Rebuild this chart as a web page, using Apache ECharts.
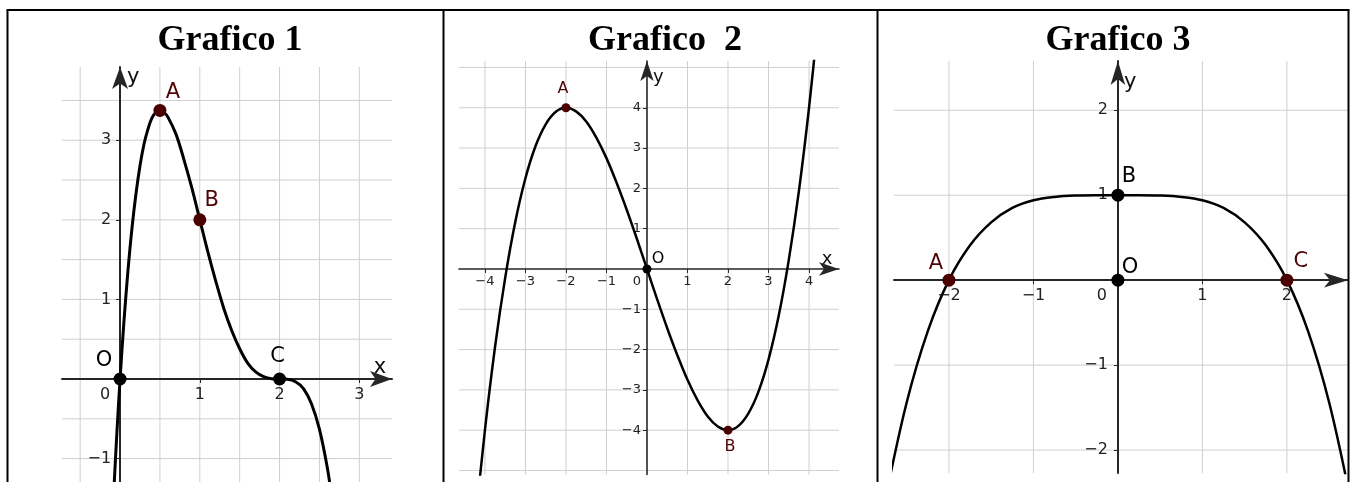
<!DOCTYPE html>
<html>
<head>
<meta charset="utf-8">
<title>Grafici</title>
<script src="https://cdn.jsdelivr.net/npm/echarts@6/dist/echarts.min.js"></script>
<style>
html, body { margin: 0; padding: 0; background: #fff; }
#chart { width: 1356px; height: 482px; }
</style>
</head>
<body>
<div id="chart"></div>
<script>
// titoli delle tre celle
const titles = ['Grafico 1', 'Grafico  2', 'Grafico 3'];

// Grafico 1: punti
const curve1X = [-0.08, -0.04, 0, 0.05, 0.1, 0.15, 0.2, 0.25, 0.3, 0.35, 0.4, 0.45, 0.5, 0.55, 0.6, 0.7, 0.8, 0.9, 1, 1.1, 1.2, 1.3, 1.4, 1.5, 1.6, 1.7, 1.8, 1.9, 2, 2.1, 2.2, 2.3, 2.4, 2.5, 2.6, 2.65];
const curve1Y = [-1.44, -0.68, 0, 0.74, 1.37, 1.9, 2.33, 2.68, 2.95, 3.14, 3.28, 3.35, 3.375, 3.35, 3.29, 3.08, 2.76, 2.4, 2, 1.6, 1.23, 0.89, 0.61, 0.38, 0.2, 0.09, 0.03, 0.004, 0, -0.004, -0.035, -0.12, -0.31, -0.63, -1.12, -1.46];
const points1Name = ['O', 'A', 'B', 'C'];
const points1X = [0, 0.5, 1, 2];
const points1Y = [0, 3.375, 2, 0];
const grid1X = [-0.5, 0.5, 1, 1.5, 2, 2.5, 3];
const grid1Y = [-1, -0.5, 0.5, 1, 1.5, 2, 2.5, 3, 3.5];
const labels1X = [0, 1, 2, 3];
const labels1Y = [-1, 1, 2, 3];

// Grafico 2
const curve2X = [-4.25, -4, -3.75, -3.5, -3.25, -3, -2.75, -2.5, -2.25, -2, -1.75, -1.5, -1.25, -1, -0.75, -0.5, -0.25, 0, 0.25, 0.5, 0.75, 1, 1.25, 1.5, 1.75, 2, 2.25, 2.5, 2.75, 3, 3.25, 3.5, 3.75, 4, 4.25];
const curve2Y = [-6.44, -4, -1.93, -0.22, 1.17, 2.25, 3.05, 3.59, 3.9, 4, 3.91, 3.66, 3.26, 2.75, 2.14, 1.47, 0.75, 0, -0.75, -1.47, -2.14, -2.75, -3.26, -3.66, -3.91, -4, -3.9, -3.59, -3.05, -2.25, -1.17, 0.22, 1.93, 4, 6.44];
const points2Name = ['A', 'O', 'B'];
const points2X = [-2, 0, 2];
const points2Y = [4, 0, -4];
const grid2X = [-4, -3, -2, -1, 1, 2, 3, 4];
const grid2Y = [-5, -4, -3, -2, -1, 1, 2, 3, 4, 5];
const labels2X = [-4, -3, -2, -1, 0, 1, 2, 3, 4];
const labels2Y = [-4, -3, -2, -1, 1, 2, 3, 4];

// Grafico 3
const curve3X = [-2.75, -2.5, -2.25, -2, -1.75, -1.5, -1.25, -1, -0.75, -0.5, -0.25, 0, 0.25, 0.5, 0.75, 1, 1.25, 1.5, 1.75, 2, 2.25, 2.5, 2.75];
const curve3Y = [-2.57, -1.44, -0.6, 0, 0.41, 0.68, 0.85, 0.94, 0.98, 0.996, 1, 1, 1, 0.996, 0.98, 0.94, 0.85, 0.68, 0.41, 0, -0.6, -1.44, -2.57];
const points3Name = ['A', 'B', 'O', 'C'];
const points3X = [-2, 0, 0, 2];
const points3Y = [0, 1, 0, 0];
const grid3X = [-2, -1, 1, 2];
const grid3Y = [-2, -1, 1, 2];
const labels3X = [-2, -1, 0, 1, 2];
const labels3Y = [-2, -1, 1, 2];

const RED = '#4a0000';
const RED_TXT = '#500505';
const AXIS = '#262626';

// impaginazione di ogni pannello
const panels = [
  {
    title: titles[0], center: 225,
    box: { left: 62, top: 67, width: 330, height: 415 },
    xr: [-0.728, 3.41], yr: [-1.294, 3.92],
    curveX: curve1X, curveY: curve1Y, curveW: 3,
    pName: points1Name, pX: points1X, pY: points1Y, pSize: 13,
    pColor: ['#000', RED, RED, '#000'],
    pOffset: [[-16, -18], [13, -18], [12, -19], [-2, -22]],
    pFont: 21,
    gx: grid1X, gy: grid1Y, lx: labels1X, ly: labels1Y,
    tickFont: 16, xMargin: 8, yMargin: 9, zeroShift: 30, axisW: 2,
    arrow: [12, 22], nameFont: 21,
    yName: { gap: -11, pad: 7 }, xName: { gap: -12, pad: 1 }
  },
  {
    title: titles[1], center: 660,
    box: { left: 459, top: 61, width: 380, height: 413.5 },
    xr: [-4.64, 4.74], yr: [-5.1, 5.16],
    curveX: curve2X, curveY: curve2Y, curveW: 2.5,
    pName: points2Name, pX: points2X, pY: points2Y, pSize: 9,
    pColor: [RED, '#000', RED],
    pOffset: [[-3, -19], [11, -10], [2, 17]],
    pFont: 16,
    gx: grid2X, gy: grid2Y, lx: labels2X, ly: labels2Y,
    tickFont: 13, xMargin: 6, yMargin: 6, zeroShift: 20, axisW: 1.6,
    arrow: [10, 20], nameFont: 18,
    yName: { gap: -16, pad: 6 }, xName: { gap: -12, pad: 1 }
  },
  {
    title: titles[2], center: 1113,
    box: { left: 894, top: 61, width: 454, height: 412 },
    xr: [-2.65, 2.723], yr: [-2.27, 2.58],
    curveX: curve3X, curveY: curve3Y, curveW: 2.5,
    pName: points3Name, pX: points3X, pY: points3Y, pSize: 13,
    pColor: [RED, '#000', '#000', RED],
    pOffset: [[-13, -17], [11, -19], [12, -13], [14, -19]],
    pFont: 21,
    gx: grid3X, gy: grid3Y, lx: labels3X, ly: labels3Y,
    tickFont: 16, xMargin: 8, yMargin: 10, zeroShift: 32, axisW: 2,
    arrow: [11, 24], nameFont: 21,
    yName: { gap: -22, pad: 6 }, xName: null
  }
];

function fmt(v) {
  if (v === 0) return '{z|0}';
  return v < 0 ? '\u2212' + (-v) : String(v);
}

const chart = echarts.init(document.getElementById('chart'));

const grids = [], xAxes = [], yAxes = [], series = [], titleOpts = [];

panels.forEach((p, i) => {
  titleOpts.push({
    text: p.title, left: p.center, top: 18, textAlign: 'center',
    textStyle: { fontFamily: 'Liberation Serif', fontWeight: 'bold', fontSize: 36, color: '#000' }
  });
  grids.push(Object.assign({ containLabel: false, outerBoundsMode: 'none' }, p.box));

  // posizione degli assi sullo zero (in pixel dal bordo della griglia)
  const b = p.box;
  const zeroY = b.top + b.height * p.yr[1] / (p.yr[1] - p.yr[0]);
  const zeroX = b.left + b.width * (-p.xr[0]) / (p.xr[1] - p.xr[0]);
  const xOffset = -(b.top + b.height - zeroY);
  const yOffset = -(zeroX - b.left);

  const axisLine = {
    onZero: false,
    symbol: ['none', 'arrow'],
    symbolSize: p.arrow,
    lineStyle: { color: AXIS, width: p.axisW }
  };
  const labelStyle = { color: '#222', fontSize: p.tickFont, fontFamily: 'DejaVu Sans' };
  const xAxis = {
    gridIndex: i, type: 'value', min: p.xr[0], max: p.xr[1], z: 1,
    position: 'bottom', offset: xOffset,
    axisLine: axisLine,
    axisTick: { show: true, customValues: p.lx.filter(v => v !== 0), length: 4, lineStyle: { color: AXIS } },
    axisLabel: Object.assign({
      customValues: p.lx, formatter: fmt, margin: p.xMargin,
      rich: { z: Object.assign({ padding: [0, p.zeroShift, 0, 0] }, labelStyle) }
    }, labelStyle),
    splitLine: { show: false }
  };
  if (p.xName) {
    xAxis.name = 'x';
    xAxis.nameLocation = 'end';
    xAxis.nameGap = p.xName.gap;
    xAxis.nameTextStyle = { fontSize: p.nameFont, fontFamily: 'DejaVu Sans', color: '#111', align: 'center', verticalAlign: 'bottom', padding: [0, 0, p.xName.pad, 0] };
  }
  xAxes.push(xAxis);
  yAxes.push({
    gridIndex: i, type: 'value', min: p.yr[0], max: p.yr[1], z: 1,
    position: 'left', offset: yOffset,
    name: 'y', nameLocation: 'end', nameGap: p.yName.gap,
    nameTextStyle: { fontSize: p.nameFont, fontFamily: 'DejaVu Sans', color: '#111', align: 'left', verticalAlign: 'middle', padding: [0, 0, 0, p.yName.pad] },
    axisLine: axisLine,
    axisTick: { show: true, customValues: p.ly, length: 4, lineStyle: { color: AXIS } },
    axisLabel: Object.assign({ customValues: p.ly, formatter: fmt, margin: p.yMargin }, labelStyle),
    splitLine: { show: false }
  });

  // griglia disegnata come linee sugli assi
  const gridStyle = { color: '#cfcfcf', width: 1 };
  p.gx.forEach(v => {
    series.push({
      type: 'line', xAxisIndex: i, yAxisIndex: i, silent: true, z: 0,
      symbol: 'none', lineStyle: gridStyle,
      data: [[v, p.yr[0]], [v, p.yr[1]]]
    });
  });
  p.gy.forEach(v => {
    series.push({
      type: 'line', xAxisIndex: i, yAxisIndex: i, silent: true, z: 0,
      symbol: 'none', lineStyle: gridStyle,
      data: [[p.xr[0], v], [p.xr[1], v]]
    });
  });

  // curva
  series.push({
    type: 'line', xAxisIndex: i, yAxisIndex: i, z: 2, silent: true,
    symbol: 'none', smooth: 0.35, clip: true,
    lineStyle: { color: '#000', width: p.curveW },
    data: p.curveX.map((x, k) => [x, p.curveY[k]])
  });

  // punti con etichetta
  series.push({
    type: 'scatter', xAxisIndex: i, yAxisIndex: i, z: 3, silent: true,
    symbol: 'circle', symbolSize: p.pSize,
    itemStyle: { opacity: 1 },
    data: p.pName.map((n, k) => ({
      name: n,
      value: [p.pX[k], p.pY[k]],
      itemStyle: { color: p.pColor[k], opacity: 1 },
      label: {
        show: true, position: 'inside', offset: p.pOffset[k], formatter: n,
        fontSize: p.pFont, fontFamily: 'DejaVu Sans',
        color: p.pColor[k] === '#000' ? '#000' : RED_TXT
      }
    }))
  });
});

const border = { stroke: '#000', lineWidth: 2 };
chart.setOption({
  animation: false,
  backgroundColor: '#fff',
  title: titleOpts,
  grid: grids,
  xAxis: xAxes,
  yAxis: yAxes,
  series: series,
  graphic: [
    { type: 'line', z: 10, shape: { x1: 6.5, y1: 10, x2: 1349.5, y2: 10 }, style: border },
    { type: 'line', z: 10, shape: { x1: 7.5, y1: 10, x2: 7.5, y2: 482 }, style: border },
    { type: 'line', z: 10, shape: { x1: 443.5, y1: 10, x2: 443.5, y2: 482 }, style: border },
    { type: 'line', z: 10, shape: { x1: 877.5, y1: 10, x2: 877.5, y2: 482 }, style: border },
    { type: 'line', z: 10, shape: { x1: 1348.5, y1: 10, x2: 1348.5, y2: 482 }, style: border }
  ]
});
</script>
</body>
</html>
